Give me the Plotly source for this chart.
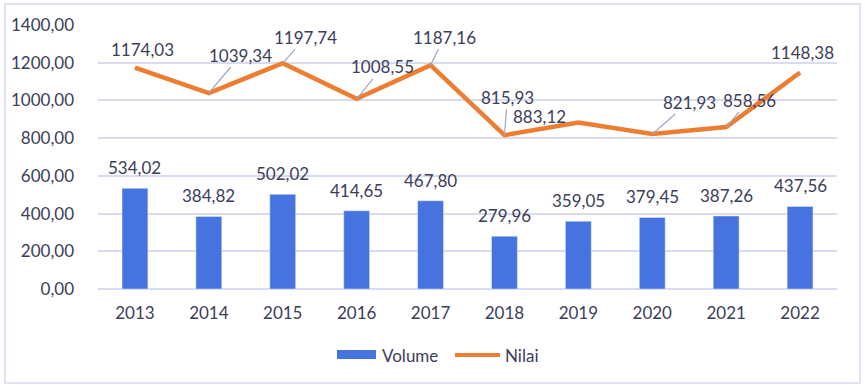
import plotly.graph_objects as go

years = ["2013", "2014", "2015", "2016", "2017", "2018", "2019", "2020", "2021", "2022"]
volume = [534.02, 384.82, 502.02, 414.65, 467.80, 279.96, 359.05, 379.45, 387.26, 437.56]
nilai = [1174.03, 1039.34, 1197.74, 1008.55, 1187.16, 815.93, 883.12, 821.93, 858.56, 1148.38]
y_ticks = [0, 200, 400, 600, 800, 1000, 1200, 1400]

def fmt(v):
    return f"{v:.2f}".replace(".", ",")

FONT = "Lato, Open Sans, sans-serif"
TXT = "#3c3d58"
BLUE = "#4673E0"
ORANGE = "#ED7D31"
LEADER = "#9fa8c8"
FS = 17

fig = go.Figure()
fig.add_trace(go.Bar(x=years, y=volume, name="Volume", marker_color=BLUE,
                     width=0.35, showlegend=False))
fig.add_trace(go.Scatter(x=years, y=nilai, name="Nilai", mode="lines",
                         line=dict(color=ORANGE, width=4.5), showlegend=False))

ann = []
for i, v in enumerate(volume):
    ann.append(dict(x=i, y=v, text=fmt(v), showarrow=False, yanchor="bottom",
                    yshift=8, font=dict(family=FONT, size=FS, color=TXT)))

# label offsets (pixels) for line labels, and whether a leader line is drawn
offsets = [(8, -18, False), (32, -38, True), (23, -26, True), (26, -32, True),
           (14, -28, True), (3, -38, True), (-39, -6, False), (37, -32, True),
           (23, -27, True), (2, -20, False)]
for i, (v, (ax, ay, lead)) in enumerate(zip(nilai, offsets)):
    ann.append(dict(x=i, y=v, text=fmt(v), showarrow=True, ax=ax, ay=ay,
                    arrowhead=0, arrowwidth=1.2,
                    arrowcolor=LEADER if lead else "rgba(0,0,0,0)",
                    font=dict(family=FONT, size=FS, color=TXT)))

# custom legend
ann.append(dict(xref="paper", yref="paper", x=0.3816, y=-0.25, text="Volume",
                showarrow=False, xanchor="left", yanchor="middle",
                font=dict(family=FONT, size=FS, color=TXT)))
ann.append(dict(xref="paper", yref="paper", x=0.548, y=-0.25, text="Nilai",
                showarrow=False, xanchor="left", yanchor="middle",
                font=dict(family=FONT, size=FS, color=TXT)))

shapes = [
    dict(type="rect", xref="paper", yref="paper", x0=0.3234, x1=0.3762,
         y0=-0.265, y1=-0.231, fillcolor=BLUE, line=dict(width=0)),
    dict(type="line", xref="paper", yref="paper", x0=0.4831, x1=0.5440,
         y0=-0.25, y1=-0.25, line=dict(color=ORANGE, width=4)),
    # outer border
    dict(type="rect", xref="paper", yref="paper",
         x0=(5 - 98) / 739, x1=(860 - 98) / 739,
         y0=(289 - 383) / 264, y1=(289 - 4) / 264,
         line=dict(color="#d6d9ef", width=1.5), fillcolor="rgba(0,0,0,0)"),
]

fig.update_layout(
    width=865, height=385,
    margin=dict(l=98, r=28, t=25, b=96),
    paper_bgcolor="white", plot_bgcolor="white",
    font=dict(family=FONT, size=FS, color=TXT),
    annotations=ann, shapes=shapes,
)
fig.update_xaxes(type="category", range=[-0.5, len(years) - 0.5],
                 showgrid=False, showline=False, ticks="",
                 ticklabelstandoff=12, tickfont=dict(size=FS, color=TXT))
fig.update_yaxes(range=[0, 1400], tickvals=y_ticks,
                 ticktext=[fmt(t) for t in y_ticks],
                 showgrid=True, gridcolor="#d9dcf1", gridwidth=1.5,
                 zeroline=True, zerolinecolor="#d9dcf1", zerolinewidth=1.5,
                 showline=False, ticks="", ticklabelstandoff=23,
                 tickfont=dict(size=FS, color=TXT))

fig.write_html("out.html", config={"displayModeBar": False},
               post_script="document.body.style.margin='0';"
                           "document.body.style.overflow='hidden';")
